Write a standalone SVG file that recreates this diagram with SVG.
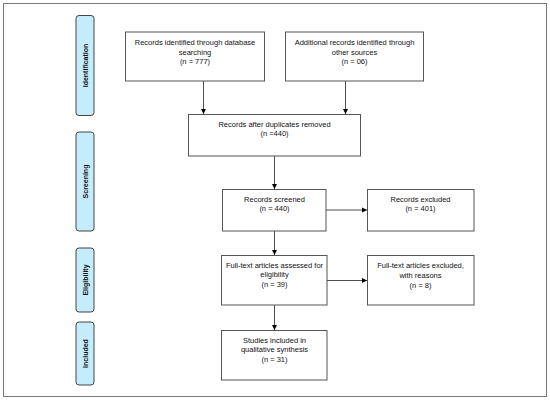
<svg xmlns="http://www.w3.org/2000/svg" width="550" height="400" viewBox="0 0 550 400">
<defs>
<marker id="ah" markerWidth="6" markerHeight="6" refX="5" refY="3" orient="auto" markerUnits="userSpaceOnUse">
<path d="M0,0.5 L5,3 L0,5.5 Z" fill="#000"/>
</marker>
<style>
.box{fill:#fff;stroke:#555;stroke-width:1}
.pill{fill:#c4ecfa;stroke:#444;stroke-width:1}
.t{font-family:"Liberation Sans",Arial,sans-serif;font-size:7.5px;fill:#111;text-anchor:middle}
.p{font-family:"Liberation Sans",Arial,sans-serif;font-size:7px;font-weight:bold;fill:#111;text-anchor:middle}
.c{stroke:#222;stroke-width:0.8;fill:none;marker-end:url(#ah)}
</style>
</defs>
<rect x="0" y="0" width="550" height="400" fill="#fff"/>
<rect x="3.5" y="3.5" width="543" height="393" fill="#fff" stroke="#777" stroke-width="1"/>
<g id="phase-identification">
<rect class="pill" x="76" y="15.5" width="18" height="100" rx="3"/>
<text class="p" transform="translate(87.5,65.5) rotate(-90)">Identification</text>
</g>
<g id="phase-screening">
<rect class="pill" x="76" y="132" width="18" height="99" rx="3"/>
<text class="p" transform="translate(87.5,181.5) rotate(-90)">Screening</text>
</g>
<g id="phase-eligibility">
<rect class="pill" x="76" y="248" width="18" height="64" rx="3"/>
<text class="p" transform="translate(87.5,280) rotate(-90)">Eligibility</text>
</g>
<g id="phase-included">
<rect class="pill" x="76" y="322" width="18" height="63" rx="3"/>
<text class="p" transform="translate(87.5,353.5) rotate(-90)">Included</text>
</g>
<g id="connectors">
<line class="c" x1="203.5" y1="81" x2="203.5" y2="114"/>
<line class="c" x1="345.5" y1="81" x2="345.5" y2="114"/>
<line class="c" x1="274.5" y1="156" x2="274.5" y2="189"/>
<line class="c" x1="274.5" y1="231" x2="274.5" y2="255"/>
<line class="c" x1="274.5" y1="305" x2="274.5" y2="330"/>
<line class="c" x1="326" y1="210" x2="367" y2="210"/>
<line class="c" x1="327" y1="280.5" x2="367" y2="280.5"/>
</g>
<g id="n1">
<rect class="box" x="125.5" y="32" width="139" height="49"/>
<text class="t" x="195" y="45">Records identified through database</text>
<text class="t" x="195" y="54.5">searching</text>
<text class="t" x="195" y="64">(n = 777)</text>
</g>
<g id="n2">
<rect class="box" x="285.5" y="32" width="138" height="49"/>
<text class="t" x="354.5" y="45">Additional records identified through</text>
<text class="t" x="354.5" y="54.5">other sources</text>
<text class="t" x="354.5" y="64">(n = 06)</text>
</g>
<g id="n3">
<rect class="box" x="188.5" y="114.5" width="172" height="41.5"/>
<text class="t" x="274.5" y="127">Records after duplicates removed</text>
<text class="t" x="274.5" y="136">(n =440)</text>
</g>
<g id="n4">
<rect class="box" x="222.5" y="189.5" width="103.5" height="41.5"/>
<text class="t" x="274.5" y="201.5">Records screened</text>
<text class="t" x="274.5" y="211">(n = 440)</text>
</g>
<g id="n5">
<rect class="box" x="367.5" y="189.5" width="106.5" height="41.5"/>
<text class="t" x="420.5" y="201.5">Records excluded</text>
<text class="t" x="420.5" y="211">(n = 401)</text>
</g>
<g id="n6">
<rect class="box" x="221.5" y="255.5" width="105.5" height="49.5"/>
<text class="t" x="274.5" y="268">Full-text articles assessed for</text>
<text class="t" x="274.5" y="277">eligibility</text>
<text class="t" x="274.5" y="287">(n = 39)</text>
</g>
<g id="n7">
<rect class="box" x="367.5" y="255.5" width="106.5" height="49.5"/>
<text class="t" x="420.5" y="268">Full-text articles excluded,</text>
<text class="t" x="420.5" y="277.5">with reasons</text>
<text class="t" x="420.5" y="287.5">(n =  8)</text>
</g>
<g id="n8">
<rect class="box" x="221.5" y="330.5" width="105.5" height="49.5"/>
<text class="t" x="274.5" y="342.5">Studies included in</text>
<text class="t" x="274.5" y="352">qualitative synthesis</text>
<text class="t" x="274.5" y="362">(n =  31)</text>
</g>
</svg>
